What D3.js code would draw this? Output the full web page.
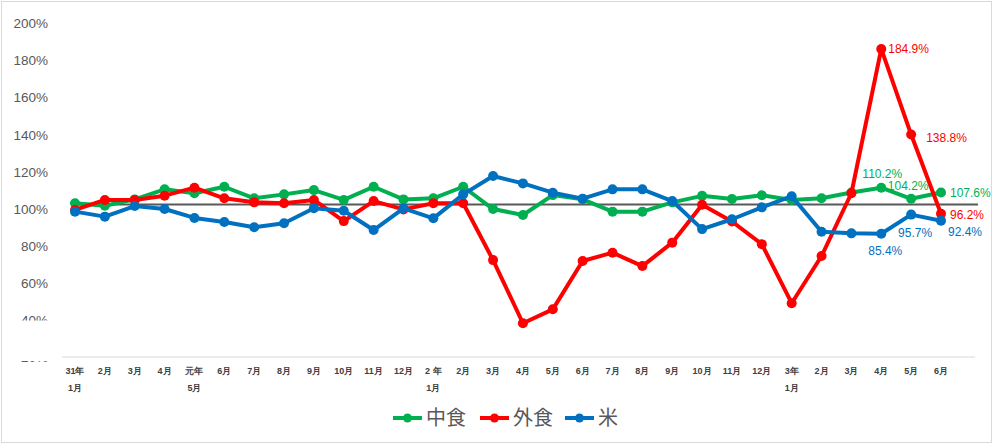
<!DOCTYPE html>
<html><head><meta charset="utf-8">
<script src="https://cdn.jsdelivr.net/npm/d3@7"></script>
<style>
html,body{margin:0;padding:0;background:#fff;}
svg{display:block;font-family:"Liberation Sans","Open Sans",sans-serif;}
</style></head>
<body>
<script>
const monthsTop = ["31年","2月","3月","4月","元年","6月","7月","8月","9月","10月","11月","12月",
  "2 年","2月","3月","4月","5月","6月","7月","8月","9月","10月","11月","12月",
  "3年","2月","3月","4月","5月","6月"];
const monthsBottom = ["1月","","","","5月","","","","","","","",
  "1月","","","","","","","","","","","",
  "1月","","","","",""];
const nakashoku = [101.8,100.5,103.9,109.3,107.2,110.7,104.5,106.6,108.9,103.6,110.7,103.9,104.5,110.7,98.7,95.5,106.2,103.9,97.3,97.3,102.3,105.8,104.1,106.1,103.6,104.5,107.6,110.2,104.2,107.6];
const gaishoku = [98.2,103.6,103.6,105.9,110.2,104.5,102.3,101.8,103.6,92.2,103.0,98.5,101.8,101.8,71.2,37.2,44.7,70.7,75.2,68.0,80.6,101.0,92.0,79.8,48.0,73.4,107.2,184.9,138.8,96.2];
const kome = [97.3,94.6,100.3,98.7,93.9,91.7,88.9,91.0,99.1,97.8,87.4,99.1,93.7,106.6,116.5,112.5,107.5,104.3,109.3,109.3,103.0,87.9,93.2,99.6,105.6,86.5,85.6,85.4,95.7,92.4];
const refValue = 101.2;
const yTicks = [20,40,60,80,100,120,140,160,180,200];
const seriesNames = ["中食","外食","米"];
const seriesColors = ["#00B050","#FF0000","#0070C0"];

const W = 993, H = 444;
const svg = d3.select("body").append("svg").attr("width", W).attr("height", H);
svg.append("rect").attr("x",1.5).attr("y",1.5).attr("width",W-3).attr("height",H-3)
  .attr("fill","#fff").attr("stroke","#d9d9d9").attr("stroke-width",1);

const idx = d3.range(monthsTop.length);
const x = d3.scalePoint().domain(idx).range([75, 941]);
const y = d3.scaleLinear().domain([20, 200]).range([355.2, 20.9]);

// y axis labels
const yAxis = d3.axisLeft(y).tickValues(yTicks).tickFormat(d => d + "%").tickSize(0).tickPadding(0);
const gy = svg.append("g").attr("transform","translate(48,0)").call(yAxis);
gy.select(".domain").remove();
gy.selectAll("text").attr("fill","#595959").style("font-size","13.5px").attr("dy","0.5em");

// x axis line
svg.append("line").attr("x1",62).attr("x2",975).attr("y1",357).attr("y2",357)
  .attr("stroke","#d9d9d9").attr("stroke-width",1);

// white box covering lower y labels
svg.append("rect").attr("x",10).attr("y",320.5).attr("width",50).attr("height",40.5).attr("fill","#fff");

// x labels
const gx = svg.append("g");
gx.selectAll("text.t").data(idx).enter().append("text")
  .attr("x", d => x(d)).attr("y", 374).attr("text-anchor","middle")
  .attr("fill","#404040").style("font-size","9px").style("font-weight","bold")
  .text(d => monthsTop[d]);
gx.selectAll("text.b").data(idx).enter().append("text")
  .attr("x", d => x(d)).attr("y", 391).attr("text-anchor","middle")
  .attr("fill","#404040").style("font-size","9px").style("font-weight","bold")
  .text(d => monthsBottom[d]);

// reference line
svg.append("line").attr("x1",73).attr("x2",978).attr("y1",y(refValue)).attr("y2",y(refValue))
  .attr("stroke","#595959").attr("stroke-width",2);

const allSeries = [nakashoku, gaishoku, kome];
const line = d3.line().x((d,i) => x(i)).y(d => y(d));
allSeries.forEach((s, k) => {
  const g = svg.append("g");
  g.append("path").attr("d", line(s)).attr("fill","none")
    .attr("stroke", seriesColors[k]).attr("stroke-width",4).attr("stroke-linejoin","round");
  g.selectAll("circle").data(s).enter().append("circle")
    .attr("cx",(d,i)=>x(i)).attr("cy",d=>y(d)).attr("r",5).attr("fill",seriesColors[k]);
});

// data labels (last three months)
const n = monthsTop.length;
const labels = [
  {s:0, i:n-3, dx:1, dy:-10, anchor:"middle"},
  {s:0, i:n-2, dx:-3, dy:-9, anchor:"middle"},
  {s:0, i:n-1, dx:9, dy:4, anchor:"start"},
  {s:1, i:n-3, dx:7, dy:4, anchor:"start"},
  {s:1, i:n-2, dx:15, dy:7, anchor:"start"},
  {s:1, i:n-1, dx:9, dy:5, anchor:"start"},
  {s:2, i:n-3, dx:4, dy:21, anchor:"middle"},
  {s:2, i:n-2, dx:4, dy:22, anchor:"middle"},
  {s:2, i:n-1, dx:7, dy:15, anchor:"start"}
];
svg.selectAll("text.dl").data(labels).enter().append("text")
  .attr("x", d => x(d.i) + d.dx).attr("y", d => y(allSeries[d.s][d.i]) + d.dy)
  .attr("text-anchor", d => d.anchor)
  .attr("fill", d => seriesColors[d.s]).style("font-size","12px")
  .text(d => allSeries[d.s][d.i].toFixed(1) + "%");

// legend
const legendX = [393, 480, 565];
const lg = svg.append("g");
seriesNames.forEach((nm, k) => {
  const lx = legendX[k];
  lg.append("line").attr("x1",lx).attr("x2",lx+29).attr("y1",418).attr("y2",418)
    .attr("stroke",seriesColors[k]).attr("stroke-width",4);
  lg.append("circle").attr("cx",lx+14.5).attr("cy",418).attr("r",4.5).attr("fill",seriesColors[k]);
  lg.append("text").attr("x",lx+33).attr("y",425).attr("fill","#595959")
    .style("font-size","20px").style("font-family","'Noto Sans CJK JP',sans-serif").text(nm);
});
</script>
</body></html>
